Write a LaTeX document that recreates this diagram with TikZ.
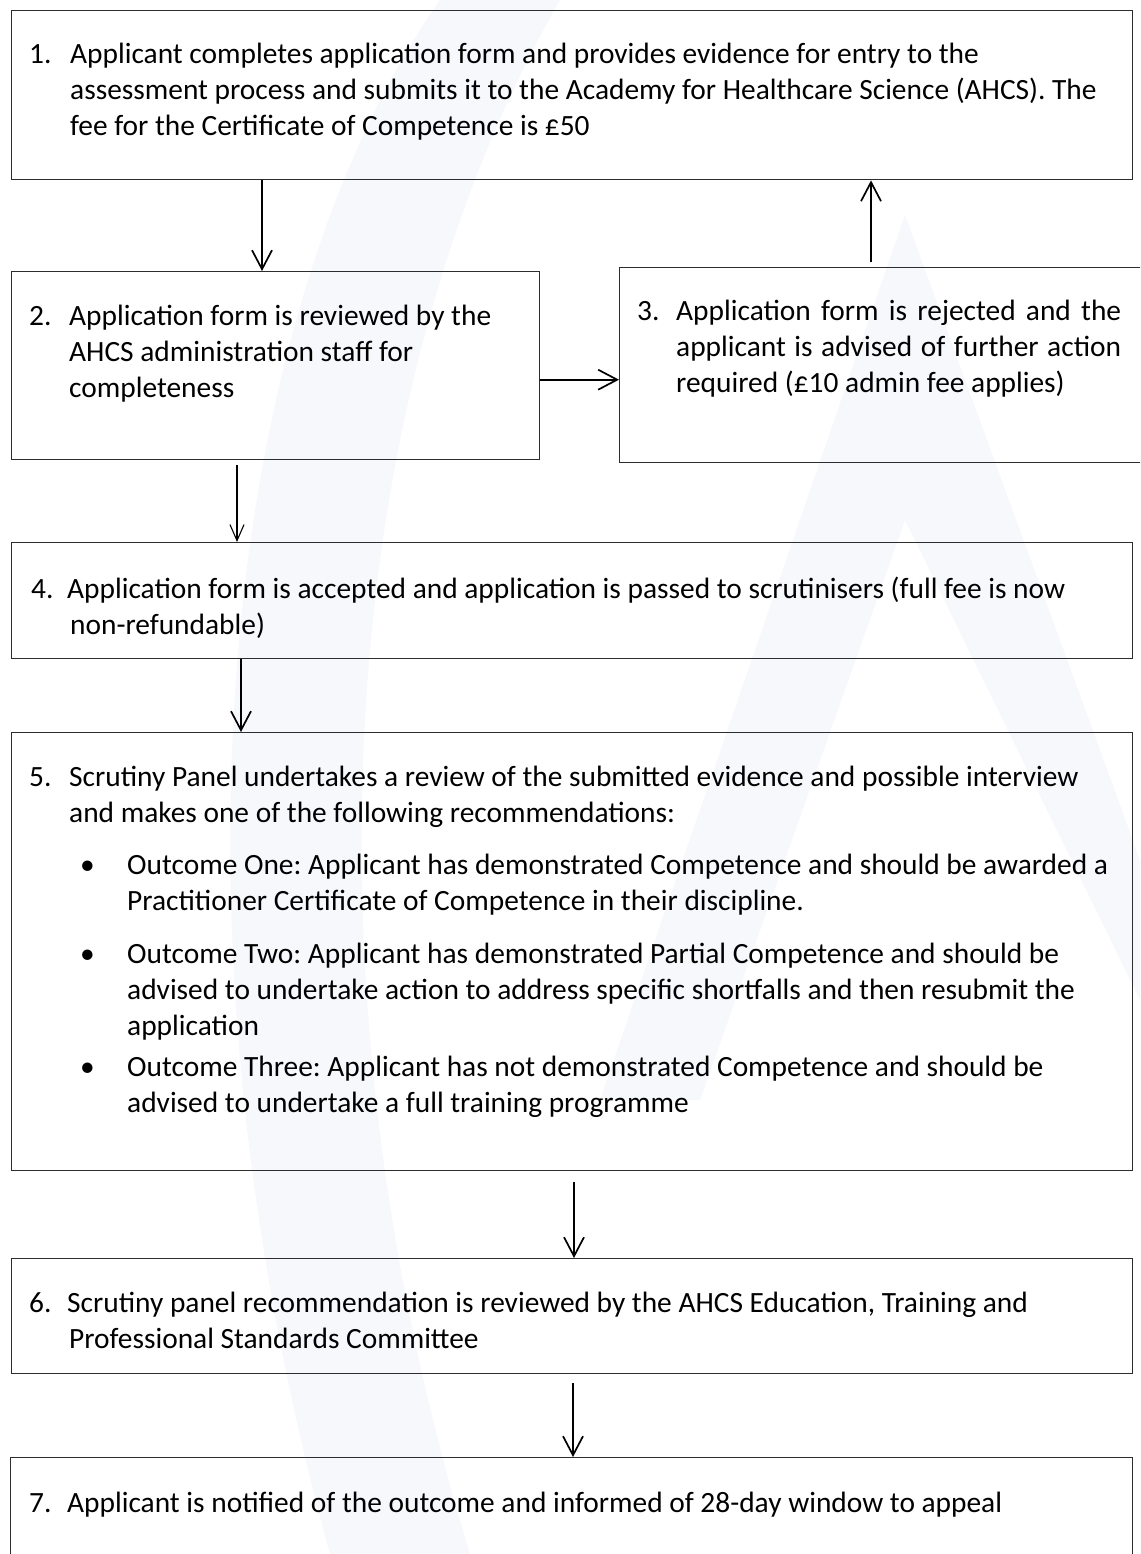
\documentclass[tikz,border=0pt]{standalone}
\usepackage{fontspec}
\setmainfont{Carlito}
\usetikzlibrary{arrows.meta}
\definecolor{wmc}{RGB}{246,248,251}
\definecolor{boxline}{RGB}{45,45,45}
\newcommand\rowsof[1]{\begin{tabular}[t]{@{}l@{}}#1\end{tabular}}
\newcommand\numlab[2]{\makebox[#1][l]{#2}}
\begin{document}
\begin{tikzpicture}[x=1pt,y=-1pt,
  box/.style={draw=boxline, line width=1.4pt, rectangle, anchor=north west, inner sep=0pt},
  txt/.style={anchor=base west, inner sep=0pt, font=\fontsize{29.4}{36}\selectfont\frenchspacing},
  arr/.style={draw=black, line width=1.7pt, -{Straight Barb[length=19pt,width=20pt,line width=1.7pt]}},
  thinarr/.style={draw=black, line width=1.1pt, -{Straight Barb[length=16pt,width=14pt,line width=1.1pt]}},
  wm/.style={fill=wmc, draw=none}]
\useasboundingbox (0,0) rectangle (1140,1554);
\clip (0,0) rectangle (1140,1554);
\fill[white] (0,0) rectangle (1140,1554);
% faint watermark
\path[wm] (440,0) .. controls (230,300) and (150,900) .. (330,1554) -- (470,1554) .. controls (300,1000) and (330,400) .. (560,0) -- cycle;
\path[wm] (905,215) -- (1140,860) -- (1140,1000) -- (905,520) -- (700,1100) -- (600,1100) -- cycle;
% boxes
\node[box, minimum width=1121pt, minimum height=169pt] (b1) at (11,10) {};
\node[box, minimum width=528pt, minimum height=188pt] (b2) at (11,271) {};
\node[box, minimum width=560pt, minimum height=195pt] (b3) at (619,267) {};
\node[box, minimum width=1121pt, minimum height=116pt] (b4) at (11,542) {};
\node[box, minimum width=1121pt, minimum height=438pt] (b5) at (11,732) {};
\node[box, minimum width=1121pt, minimum height=115pt] (b6) at (11,1258) {};
\node[box, minimum width=1122pt, minimum height=140pt] (b7) at (10,1457) {};
% texts
\node[txt] (t1) at (29,64) {\rowsof{\numlab{41pt}{1.}Applicant completes application form and provides evidence for entry to the\\
\hspace*{41pt}assessment process and submits it to the Academy for Healthcare Science (AHCS). The\\
\hspace*{41pt}fee for the Certificate of Competence is £50}};
\node[txt] (t2) at (29,325) {\rowsof{\numlab{40pt}{2.}Application form is reviewed by the\\
\hspace*{40pt}AHCS administration staff for\\
\hspace*{40pt}completeness}};
\node[txt] (t3) at (637,320) {\rowsof{\numlab{39pt}{3.}\makebox[445pt][s]{Application form is rejected and the}\\
\hspace*{39pt}\makebox[445pt][s]{applicant is advised of further action}\\
\hspace*{39pt}required (£10 admin fee applies)}};
\node[txt] (t4) at (31,598) {\rowsof{\numlab{36pt}{4.}Application form is accepted and application is passed to scrutinisers (full fee is now\\
\hspace*{39pt}non-refundable)}};
\node[txt] (t5) at (29,786) {\rowsof{\numlab{40pt}{5.}Scrutiny Panel undertakes a review of the submitted evidence and possible interview\\
\hspace*{40pt}and makes one of the following recommendations:}};
\node[txt] (d1) at (80,874) {•};
\node[txt] (o1) at (127,874) {\rowsof{Outcome One: Applicant has demonstrated Competence and should be awarded a\\
Practitioner Certificate of Competence in their discipline.}};
\node[txt] (d2) at (80,963) {•};
\node[txt] (o2) at (127,963) {\rowsof{Outcome Two: Applicant has demonstrated Partial Competence and should be\\
advised to undertake action to address specific shortfalls and then resubmit the\\
application}};
\node[txt] (d3) at (80,1076) {•};
\node[txt] (o3) at (127,1076) {\rowsof{Outcome Three: Applicant has not demonstrated Competence and should be\\
advised to undertake a full training programme}};
\node[txt] (t6) at (29,1312) {\rowsof{\numlab{38pt}{6.}Scrutiny panel recommendation is reviewed by the AHCS Education, Training and\\
\hspace*{40pt}Professional Standards Committee}};
\node[txt] (t7) at (29,1512) {\rowsof{\numlab{38pt}{7.}Applicant is notified of the outcome and informed of 28-day window to appeal}};
% connectors
\draw[arr] ([xshift=251pt]b1.south west) -- ([xshift=251pt]b2.north west);
\draw[arr, shorten <=5pt] ([xshift=252pt]b3.north west) -- ([xshift=860pt]b1.south west);
\draw[arr] ([yshift=-14pt]b2.east) -- ([yshift=-14.5pt]b3.west);
\draw[thinarr, shorten <=5pt] ([xshift=226pt]b2.south west) -- ([xshift=226pt]b4.north west);
\draw[arr] ([xshift=230pt]b4.south west) -- ([xshift=230pt]b5.north west);
\draw[arr, shorten <=11pt] ([xshift=563pt]b5.south west) -- ([xshift=563pt]b6.north west);
\draw[arr, shorten <=9pt] ([xshift=562pt]b6.south west) -- ([xshift=563pt]b7.north west);
\end{tikzpicture}
\end{document}
